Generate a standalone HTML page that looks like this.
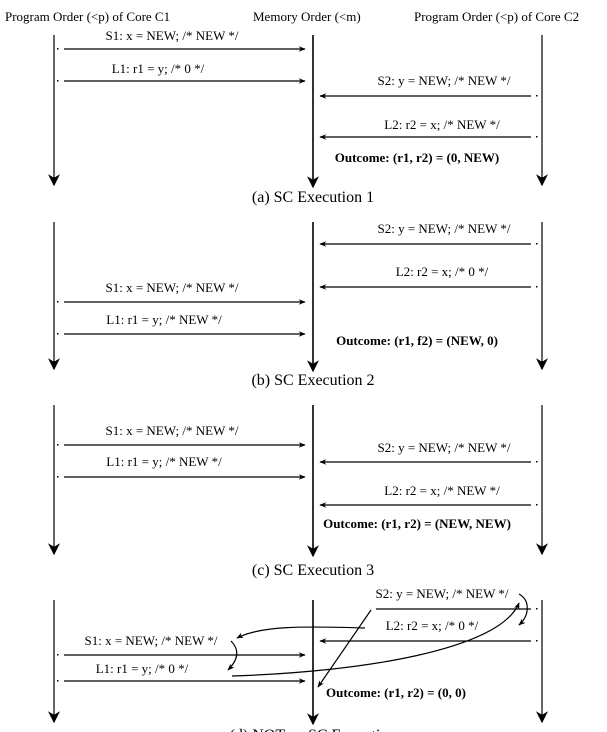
<!DOCTYPE html>
<html><head><style>
html,body{margin:0;padding:0;background:#fff;}
svg{display:block;font-family:"Liberation Serif",serif;}
</style></head><body>
<svg width="607" height="732" viewBox="0 0 607 732" xmlns="http://www.w3.org/2000/svg">
<defs>
<marker id="h" viewBox="0 0 10 10" refX="9" refY="5" markerWidth="9" markerHeight="7" orient="auto" markerUnits="userSpaceOnUse"><path d="M0,1 L10,5 L0,9 L3,5 Z" fill="#000"/></marker>
<marker id="H" viewBox="0 0 10 10" refX="9" refY="5" markerWidth="14" markerHeight="12" orient="auto" markerUnits="userSpaceOnUse"><path d="M0,0 L10,5 L0,10 L3,5 Z" fill="#000"/></marker>
</defs>
<g font-size="13" fill="#000">
<text x="5" y="21">Program Order (&lt;p) of Core C1</text>
<text x="253" y="21">Memory Order (&lt;m)</text>
<text x="414" y="21">Program Order (&lt;p) of Core C2</text>
</g>
<g stroke="#000" fill="none" stroke-width="1.2">
<!-- panel a -->
<line x1="54" y1="35" x2="54" y2="185" marker-end="url(#H)"/>
<line x1="313" y1="35" x2="313" y2="187" stroke-width="1.6" marker-end="url(#H)"/>
<line x1="542" y1="35" x2="542" y2="185" marker-end="url(#H)"/>
<line x1="64" y1="49" x2="305" y2="49" marker-end="url(#h)"/>
<line x1="64" y1="81" x2="305" y2="81" marker-end="url(#h)"/>
<line x1="531" y1="96" x2="320" y2="96" marker-end="url(#h)"/>
<line x1="531" y1="137" x2="320" y2="137" marker-end="url(#h)"/>
<!-- panel b -->
<line x1="54" y1="222" x2="54" y2="369" marker-end="url(#H)"/>
<line x1="313" y1="222" x2="313" y2="371" stroke-width="1.6" marker-end="url(#H)"/>
<line x1="542" y1="222" x2="542" y2="369" marker-end="url(#H)"/>
<line x1="531" y1="244" x2="320" y2="244" marker-end="url(#h)"/>
<line x1="531" y1="287" x2="320" y2="287" marker-end="url(#h)"/>
<line x1="64" y1="302" x2="305" y2="302" marker-end="url(#h)"/>
<line x1="64" y1="334" x2="305" y2="334" marker-end="url(#h)"/>
<!-- panel c -->
<line x1="54" y1="405" x2="54" y2="554" marker-end="url(#H)"/>
<line x1="313" y1="405" x2="313" y2="556" stroke-width="1.6" marker-end="url(#H)"/>
<line x1="542" y1="405" x2="542" y2="554" marker-end="url(#H)"/>
<line x1="64" y1="445" x2="305" y2="445" marker-end="url(#h)"/>
<line x1="531" y1="462" x2="320" y2="462" marker-end="url(#h)"/>
<line x1="64" y1="477" x2="305" y2="477" marker-end="url(#h)"/>
<line x1="531" y1="505" x2="320" y2="505" marker-end="url(#h)"/>
<!-- panel d -->
<line x1="54" y1="600" x2="54" y2="722" marker-end="url(#H)"/>
<line x1="313" y1="600" x2="313" y2="724" stroke-width="1.6" marker-end="url(#H)"/>
<line x1="542" y1="600" x2="542" y2="722" marker-end="url(#H)"/>
<line x1="376" y1="609" x2="531" y2="609"/>
<line x1="531" y1="641" x2="320" y2="641" marker-end="url(#h)"/>
<line x1="64" y1="655" x2="305" y2="655" marker-end="url(#h)"/>
<line x1="64" y1="681" x2="305" y2="681" marker-end="url(#h)"/>
<path d="M365,628 C300,626 260,626 237,638" marker-end="url(#h)"/>
<path d="M231,641 C240,650 238,660 228,670" marker-end="url(#h)"/>
<path d="M232,676 C360,672 500,650 519,603" marker-end="url(#h)"/>
<path d="M519,594 C530,600 530,615 519,625" marker-end="url(#h)"/>
<line x1="371" y1="610" x2="318" y2="687" marker-end="url(#h)"/>
</g>
<g fill="#000">
<rect x="57" y="48" width="1.5" height="1.5"/><rect x="57" y="80" width="1.5" height="1.5"/>
<rect x="536" y="95" width="1.5" height="1.5"/><rect x="536" y="136" width="1.5" height="1.5"/>
<rect x="536" y="243" width="1.5" height="1.5"/><rect x="536" y="286" width="1.5" height="1.5"/>
<rect x="57" y="301" width="1.5" height="1.5"/><rect x="57" y="333" width="1.5" height="1.5"/>
<rect x="57" y="444" width="1.5" height="1.5"/><rect x="536" y="461" width="1.5" height="1.5"/>
<rect x="57" y="476" width="1.5" height="1.5"/><rect x="536" y="504" width="1.5" height="1.5"/>
<rect x="536" y="608" width="1.5" height="1.5"/><rect x="536" y="640" width="1.5" height="1.5"/>
<rect x="57" y="654" width="1.5" height="1.5"/><rect x="57" y="680" width="1.5" height="1.5"/>
</g>
<g font-size="13" fill="#000" text-anchor="middle">
<!-- a -->
<text x="172" y="40">S1: x = NEW; /* NEW */</text>
<text x="158" y="73">L1: r1 = y; /* 0 */</text>
<text x="444" y="85">S2: y = NEW; /* NEW */</text>
<text x="442" y="129">L2: r2 = x; /* NEW */</text>
<text x="417" y="162" font-weight="bold">Outcome: (r1, r2) = (0, NEW)</text>
<text x="313" y="202" font-size="16">(a) SC Execution 1</text>
<!-- b -->
<text x="444" y="233">S2: y = NEW; /* NEW */</text>
<text x="442" y="276">L2: r2 = x; /* 0 */</text>
<text x="172" y="292">S1: x = NEW; /* NEW */</text>
<text x="164" y="324">L1: r1 = y; /* NEW */</text>
<text x="417" y="345" font-weight="bold">Outcome: (r1, f2) = (NEW, 0)</text>
<text x="313" y="385" font-size="16">(b) SC Execution 2</text>
<!-- c -->
<text x="172" y="435">S1: x = NEW; /* NEW */</text>
<text x="444" y="452">S2: y = NEW; /* NEW */</text>
<text x="164" y="466">L1: r1 = y; /* NEW */</text>
<text x="442" y="495">L2: r2 = x; /* NEW */</text>
<text x="417" y="528" font-weight="bold">Outcome: (r1, r2) = (NEW, NEW)</text>
<text x="313" y="575" font-size="16">(c) SC Execution 3</text>
<!-- d -->
<text x="442" y="598">S2: y = NEW; /* NEW */</text>
<text x="432" y="630">L2: r2 = x; /* 0 */</text>
<text x="151" y="645">S1: x = NEW; /* NEW */</text>
<text x="142" y="673">L1: r1 = y; /* 0 */</text>
<text x="396" y="697" font-weight="bold">Outcome: (r1, r2) = (0, 0)</text>
<text x="313" y="740" font-size="16">(d) NOT an SC Execution</text>
</g>
</svg>
</body></html>
